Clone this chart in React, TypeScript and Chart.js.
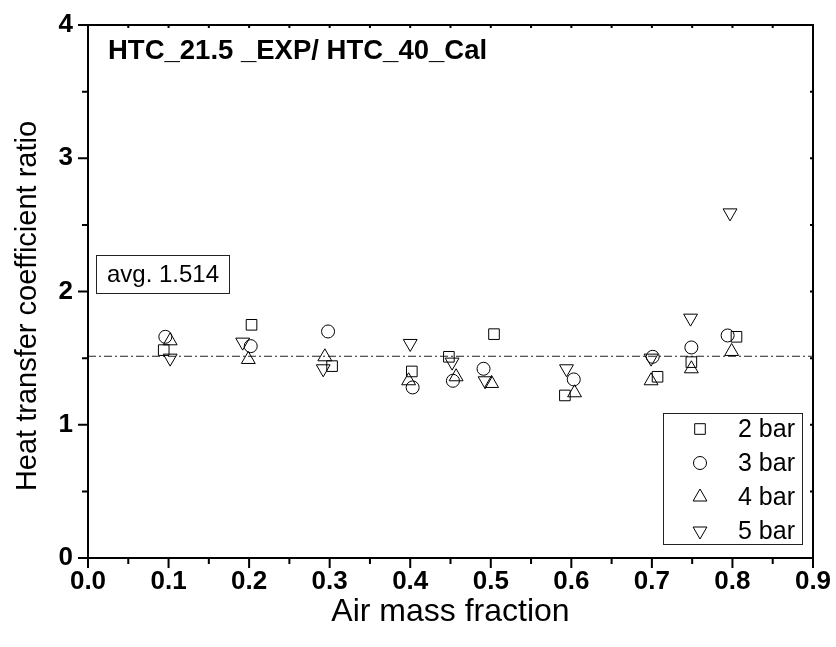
import React, { useEffect, useRef } from 'react';
import { Chart, registerables } from 'chart.js';

Chart.register(...registerables);

const FONT = '"Liberation Sans", Arial, Helvetica, sans-serif';

const X_TICKS = [0, 0.1, 0.2, 0.3, 0.4, 0.5, 0.6, 0.7, 0.8, 0.9];
const Y_TICKS = [0, 1, 2, 3, 4];

const SERIES_NAMES = ['2 bar', '3 bar', '4 bar', '5 bar'];

const X_2BAR = [0.094, 0.203, 0.303, 0.402, 0.448, 0.504, 0.592, 0.707, 0.749, 0.805];
const Y_2BAR = [1.56, 1.75, 1.44, 1.40, 1.51, 1.68, 1.22, 1.36, 1.47, 1.66];
const X_3BAR = [0.096, 0.202, 0.298, 0.403, 0.453, 0.491, 0.603, 0.701, 0.749, 0.794];
const Y_3BAR = [1.66, 1.59, 1.70, 1.28, 1.33, 1.42, 1.34, 1.51, 1.58, 1.67];
const X_4BAR = [0.102, 0.199, 0.294, 0.398, 0.457, 0.501, 0.604, 0.699, 0.749, 0.799];
const Y_4BAR = [1.63, 1.49, 1.51, 1.33, 1.36, 1.31, 1.24, 1.33, 1.42, 1.55];
const X_5BAR = [0.102, 0.192, 0.292, 0.400, 0.452, 0.493, 0.594, 0.699, 0.748, 0.797];
const Y_5BAR = [1.50, 1.62, 1.42, 1.61, 1.47, 1.33, 1.42, 1.50, 1.80, 2.59];

const AVG = 1.514;
const AVG_LABEL = 'avg. 1.514';
const CHART_TITLE = 'HTC_21.5 _EXP/ HTC_40_Cal';
const X_TITLE = 'Air mass fraction';
const Y_TITLE = 'Heat transfer coefficient ratio';

const toPts = (xs: number[], ys: number[]) => xs.map((x, i) => ({ x, y: ys[i] }));

const STYLES = [
  { pointStyle: 'rect', radius: 7.5, rotation: 0 },
  { pointStyle: 'circle', radius: 6.5, rotation: 0 },
  { pointStyle: 'triangle', radius: 8, rotation: 0 },
  { pointStyle: 'triangle', radius: 8, rotation: 180 },
];

function drawMarker(ctx: CanvasRenderingContext2D, style: string, r: number, rot: number, x: number, y: number) {
  ctx.beginPath();
  if (style === 'circle') {
    ctx.arc(x, y, r, 0, Math.PI * 2);
  } else if (style === 'rect') {
    const s = r * Math.SQRT1_2;
    ctx.rect(x - s, y - s, 2 * s, 2 * s);
  } else {
    let a = (rot * Math.PI) / 180;
    ctx.moveTo(x + Math.sin(a) * r, y - Math.cos(a) * r);
    a += (2 * Math.PI) / 3;
    ctx.lineTo(x + Math.sin(a) * r, y - Math.cos(a) * r);
    a += (2 * Math.PI) / 3;
    ctx.lineTo(x + Math.sin(a) * r, y - Math.cos(a) * r);
    ctx.closePath();
  }
  ctx.stroke();
}

const decorPlugin = {
  id: 'decor',
  afterDraw(chart: any) {
    const ctx: CanvasRenderingContext2D = chart.ctx;
    const { left, right, top, bottom } = chart.chartArea;
    const xs = chart.scales.x;
    const ys = chart.scales.y;
    ctx.save();
    ctx.strokeStyle = '#000';
    ctx.fillStyle = '#000';

    // frame
    ctx.lineWidth = 2;
    ctx.beginPath();
    ctx.moveTo(left, bottom);
    ctx.lineTo(left, top);
    ctx.lineTo(right, top);
    ctx.lineTo(right, bottom);
    ctx.lineTo(left, bottom);
    ctx.stroke();

    // ticks
    ctx.lineWidth = 2;
    for (let i = 0; i <= 18; i++) {
      const v = i * 0.05;
      const px = xs.getPixelForValue(v);
      const major = i % 2 === 0;
      ctx.beginPath();
      ctx.moveTo(px, bottom);
      ctx.lineTo(px, bottom + (major ? 10 : 6));
      ctx.moveTo(px, top);
      ctx.lineTo(px, top + 3);
      ctx.stroke();
    }
    for (let i = 0; i <= 8; i++) {
      const v = i * 0.5;
      const py = ys.getPixelForValue(v);
      const major = i % 2 === 0;
      ctx.beginPath();
      ctx.moveTo(left, py);
      ctx.lineTo(left - (major ? 10 : 6), py);
      ctx.moveTo(right, py);
      ctx.lineTo(right - 3, py);
      ctx.stroke();
    }

    // chart title
    ctx.font = `bold 27.5px ${FONT}`;
    ctx.textAlign = 'left';
    ctx.textBaseline = 'middle';
    ctx.fillText(CHART_TITLE, 108, 51);

    // y title
    ctx.save();
    ctx.translate(28, 306);
    ctx.rotate(-Math.PI / 2);
    ctx.font = `29px ${FONT}`;
    ctx.textAlign = 'center';
    ctx.textBaseline = 'middle';
    ctx.fillText(Y_TITLE, 0, 0);
    ctx.restore();

    // avg box
    ctx.lineWidth = 1;
    ctx.strokeStyle = '#222';
    ctx.strokeRect(96.5, 255.5, 133, 38);
    ctx.font = `24px ${FONT}`;
    ctx.textAlign = 'center';
    ctx.textBaseline = 'middle';
    ctx.fillText(AVG_LABEL, 163, 275);

    // legend
    ctx.strokeRect(663.5, 413.5, 139, 131);
    ctx.font = `25px ${FONT}`;
    ctx.textAlign = 'left';
    ctx.lineWidth = 1;
    ctx.strokeStyle = '#000';
    const rowY = [429, 463, 497, 531];
    SERIES_NAMES.forEach((name, i) => {
      const st = STYLES[i];
      drawMarker(ctx, st.pointStyle, st.radius, st.rotation, 700, rowY[i]);
      ctx.fillText(name, 738, rowY[i] + 1);
    });

    ctx.restore();
  },
};

export default function App() {
  const ref = useRef<HTMLCanvasElement>(null);

  useEffect(() => {
    if (!ref.current) return;
    const series = [toPts(X_2BAR, Y_2BAR), toPts(X_3BAR, Y_3BAR), toPts(X_4BAR, Y_4BAR), toPts(X_5BAR, Y_5BAR)];
    const datasets: any[] = series.map((data, i) => ({
      type: 'scatter',
      label: SERIES_NAMES[i],
      data,
      pointStyle: STYLES[i].pointStyle,
      pointRadius: STYLES[i].radius,
      pointRotation: STYLES[i].rotation,
      pointBorderWidth: 1,
      borderColor: '#000',
      backgroundColor: 'rgba(0,0,0,0)',
      pointBackgroundColor: 'rgba(0,0,0,0)',
      pointBorderColor: '#000',
      order: 1,
    }));
    datasets.push({
      type: 'line',
      label: 'avg',
      data: [
        { x: X_TICKS[0], y: AVG },
        { x: X_TICKS[X_TICKS.length - 1], y: AVG },
      ],
      borderColor: '#222',
      borderWidth: 1,
      borderDash: [8, 3, 2, 3],
      pointRadius: 0,
      fill: false,
      order: 2,
    });

    const chart = new Chart(ref.current, {
      type: 'scatter',
      data: { datasets },
      options: {
        animation: false,
        responsive: false,
        maintainAspectRatio: false,
        layout: { padding: { top: 25, right: 23, left: 0, bottom: 0 } },
        plugins: { legend: { display: false }, tooltip: { enabled: false } },
        scales: {
          x: {
            type: 'linear',
            min: 0,
            max: 0.9,
            afterBuildTicks: (s: any) => {
              s.ticks = X_TICKS.map((v) => ({ value: v }));
            },
            afterFit: (s: any) => {
              s.height = 89;
              s.paddingLeft = 0;
              s.paddingRight = 0;
            },
            ticks: {
              callback: (v: any) => Number(v).toFixed(1),
              font: { family: FONT, size: 26, weight: 'bold' },
              color: '#000',
              padding: 8,
              maxRotation: 0,
              autoSkip: false,
            },
            grid: { display: false, drawTicks: false },
            border: { display: true, color: '#000', width: 2 },
            title: {
              display: true,
              text: X_TITLE,
              color: '#000',
              font: { family: FONT, size: 32 },
              padding: { top: 0, bottom: 16 },
            },
          },
          y: {
            type: 'linear',
            min: 0,
            max: 4,
            afterBuildTicks: (s: any) => {
              s.ticks = Y_TICKS.map((v) => ({ value: v }));
            },
            afterFit: (s: any) => {
              s.width = 88;
              s.paddingTop = 0;
              s.paddingBottom = 0;
            },
            ticks: {
              callback: (v: any) => String(v),
              font: { family: FONT, size: 26, weight: 'bold' },
              color: '#000',
              padding: 15,
              autoSkip: false,
            },
            grid: { display: false, drawTicks: false },
            border: { display: true, color: '#000', width: 2 },
          },
        },
      },
      plugins: [decorPlugin],
    } as any);
    return () => chart.destroy();
  }, []);

  return (
    <div style={{ position: 'absolute', left: 0, top: 0, width: 836, height: 647, background: '#fff' }}>
      <canvas ref={ref} width={836} height={647} style={{ display: 'block' }} />
    </div>
  );
}
